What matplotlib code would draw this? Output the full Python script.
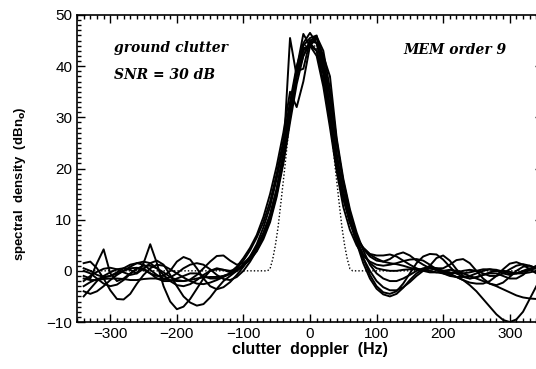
import matplotlib
matplotlib.use('Agg')
import matplotlib.pyplot as plt
from matplotlib.ticker import MultipleLocator

# doppler grid (Hz), 10 Hz steps
doppler = list(range(-340, 341, 10))

# MEM order 9 estimates (dB)
mem1 = [-1, -1.5, 1.5, 4.2, -0.5, -2, -1.5, -0.5, 0.5, 0.5, -0.5, -1.5, -2, -2, -1.5, -1, -0.5, -0.5, -1, -1.5, -1.5, -1, -0.5,
        0, 1, 2.5, 4.5, 7, 10.5, 15.5, 23, 45.5, 38, 42, 44.5, 43, 37, 29, 20.5, 14, 9.5, 6.5, 4.3, 2.8, 2,
        1.8, 2.3, 3.2, 3.6, 3, 2, 1.2, 0.5, 0.2, 0, -0.3, -0.5, -0.5, -0.3, 0, 0.3, 0.3, 0, -0.5, -0.8, -0.5, 0, 0.5, 0.5]
mem2 = [-5, -3.5, -2, -1, -0.3, 0.3, 0.5, 0.2, -0.5, 1.5, 5.2, 1.5, -3, -6, -7.5, -7, -5.5, -3.5, -1.5, 0, 0.5, 0.2, -0.3,
        0.8, 2.5, 4.5, 7, 10.5, 15, 20.5, 27, 35, 32, 37, 44, 45.5, 41.5, 34, 25, 17.5, 11.5, 6.5, 2.5, -0.8, -3,
        -4.2, -4.5, -4, -2.5, -0.5, 1.5, 2.8, 3.3, 3.2, 2.2, 0.8, -0.5, -1.2, -1.5, -1.3, -0.8, -0.3, 0, 0, -0.2, -0.5, -0.5, -0.3, 0]
mem3 = [1.5, 1.8, 0.5, -1.5, -3.8, -5.5, -5.6, -4.5, -2.5, -0.8, 0.5, 1.2, 1, 0.3, -0.5, -1.3, -2, -2.5, -2.6, -2.3, -1.8, -1.2, -0.6,
        0.2, 1.3, 2.8, 4.8, 7.5, 11, 16, 22.5, 30.5, 39, 39.5, 45, 44.5, 40, 32, 23, 15.5, 10, 6, 3.2, 1.5, 0.5,
        0.2, 0, 0, 0.2, 0.3, 0.3, 0.2, 0, -0.3, -0.5, -0.8, -1.2, -1.8, -2.8, -4, -5.5, -7, -8.5, -9.6, -10, -9.5, -8, -5.5, -3]
mem4 = [-3, -2.2, -1.6, -1.3, -1, -0.6, 0, 0.5, 0.6, 0.2, -0.5, -1, -1, 0, 1.8, 2.7, 2.2, 0.5, -1.5, -3, -3.6, -3.2, -2.2,
        -0.8, 0.8, 2.8, 5.2, 8.5, 12.5, 18, 24.5, 32, 39.5, 46.3, 44, 42, 36, 28, 19.5, 12.5, 8, 5, 3, 1.8, 1.2,
        1, 1.2, 1.5, 1.9, 2.2, 2.3, 2, 1.2, 0.3, -0.5, -1, -1.2, -1.2, -1, -0.5, 0, 0.3, 0.2, -0.2, -0.5, -0.5, -0.2, 0.2, 0.5]
mem5 = [-2, -1, -0.2, 0.4, 0.6, 0.3, -0.3, -0.8, -0.5, 0.4, 1.5, 2, 1.2, -0.8, -3, -5, -6.2, -6.8, -6.5, -5.2, -3.5, -2, -1,
        0, 1.2, 2.6, 4.3, 6.8, 10, 15, 21.5, 30, 39, 44, 45.5, 46, 40.5, 32, 22.5, 15, 9.5, 5.5, 2.5, 0, -2,
        -3.2, -3.8, -3.8, -3.2, -2.2, -1, 0, 0.5, 0.5, 0.5, 1.2, 2.1, 2.3, 1.5, 0, -1.5, -2.5, -2.8, -2.3, -1.2, 0, 0.8, 1, 0.5]
mem6 = [0, -0.5, -1.5, -2.5, -3, -2.7, -1.8, -0.6, 0.4, 1, 1, 0.5, -0.3, -1.2, -1.8, -2, -1.7, -0.8, 0.5, 1.8, 2.9, 3, 2,
        1.2, 1.5, 2.5, 4.2, 7, 10.8, 16, 23, 31, 38, 43, 44.5, 45.5, 42, 38, 26, 18, 12, 7.5, 4, 1.2, -0.5,
        -1.5, -2, -2, -1.5, -0.8, 0, 0.5, 0.8, 0.5, 0, -0.5, -1.2, -1.8, -2.3, -2.5, -2.5, -2, -1, 0.3, 1.4, 1.7, 1.2, 0.3, -0.5]
mem7 = [-4, -4.5, -4, -3, -1.8, -0.8, 0, 0.8, 1.5, 1.8, 1.5, 0.5, -0.8, -2, -2.8, -3, -2.6, -1.8, -0.8, 0, 0.3, 0.2, 0,
        0.3, 1, 2.2, 3.8, 6.2, 9.5, 14.5, 21, 29, 36.5, 42, 45, 45.8, 43, 35.5, 25.5, 17, 10.5, 5.5, 1.5, -1.5, -3.5,
        -4.6, -5, -4.5, -3.3, -1.8, -0.5, 0.3, 0.5, 0.2, -0.3, -0.5, -0.3, 0, 0.2, 0, -0.5, -1, -1, -0.5, 0.3, 1, 1.3, 1, 0.5]
mem8 = [-1.5, -1.8, -1.8, -1.6, -1.5, -1.5, -1.6, -1.8, -1.8, -1.6, -1.5, -1.5, -1.6, -1.8, -2, -2, -1.8, -1.5, -1.3, -1.2, -1.2, -1, -0.6,
        0.5, 2, 4, 6.5, 9.5, 13.5, 19, 25.5, 33, 40, 44.5, 46.5, 44.5, 39, 30.5, 21.5, 14.5, 9.5, 6.5, 4.5, 3.2, 2.4,
        1.8, 1.5, 1.3, 1, 0.6, 0.3, 0.2, 1, 2.5, 3, 2, 0.3, -1, -1.5, -1.2, -0.8, -0.5, -0.5, -1, -1.5, -1.5, -0.8, 0.3, 1]
mem9 = [0.5, 0, -0.8, -1.2, -1, -0.3, 0.5, 1.2, 1.5, 1.2, 0.2, -0.8, -1.5, -1.3, -0.5, 0.5, 1.2, 1.5, 1.2, 0.3, -0.8, -1.6, -1.8,
        -1.2, 0, 1.8, 4, 6.8, 10.5, 15.5, 22, 30, 38, 43.5, 44, 43, 38.5, 30.5, 21.5, 14.5, 9.5, 6.5, 4.5, 3.3, 3,
        3, 3.2, 2.8, 2, 1.2, 0.5, 0, -0.3, -0.3, 0, 0.2, 0, -0.5, -1, -1.5, -2, -2.5, -3, -3.6, -4.2, -4.8, -5.2, -5.4, -5.5]
estimates = [mem1, mem2, mem3, mem4, mem5, mem6, mem7, mem8, mem9]

# true clutter spectrum (dotted)
true_f = [-340, -64, -60, -56, -52, -48, -44, -38, -30, -20, -10, 0, 10, 20, 30, 38, 44, 48, 52, 56, 60, 64, 340]
true_db = [0, 0, 0.4, 2.3, 5, 8.5, 13, 20, 30, 38.5, 43.5, 45, 43.5, 38.5, 30, 20, 13, 8.5, 5, 2.3, 0.4, 0, 0]

fig = plt.figure(figsize=(5.36, 3.69), dpi=100)
ax = fig.add_axes([77 / 536, 47 / 369, 466 / 536, 307 / 369])

for est in estimates:
    ax.plot(doppler, est, color='black', lw=1.4, solid_joinstyle='round')
ax.plot(true_f, true_db, color='black', lw=1.0, linestyle=(0, (1, 1.5)))

ax.set_xlim(-350, 350)
ax.set_ylim(-10, 50)
ax.xaxis.set_major_locator(MultipleLocator(100))
ax.xaxis.set_minor_locator(MultipleLocator(10))
ax.yaxis.set_major_locator(MultipleLocator(10))
ax.yaxis.set_minor_locator(MultipleLocator(1))
ax.tick_params(which='both', direction='in', top=True, right=True, width=1.0, labelsize=11)
ax.tick_params(which='major', length=6)
ax.tick_params(which='minor', length=3)
for lab in ax.get_xticklabels() + ax.get_yticklabels():
    lab.set_family('Liberation Sans')
for sp in ax.spines.values():
    sp.set_linewidth(1.2)

ax.set_xlabel('clutter  doppler  (Hz)', fontsize=11.5, fontweight='bold', family='Liberation Sans', labelpad=1)
ax.set_ylabel(r'spectral  density  (dBn$_\mathbf{o}$)', fontsize=9.5, fontweight='bold', family='Liberation Sans', labelpad=6)
ax.yaxis.set_label_coords(-0.105, 0.45)

txt = dict(fontsize=10, fontweight='bold', fontstyle='italic', family='DejaVu Serif', transform=ax.transAxes)
ax.text(0.08, 0.878, 'ground clutter', **txt)
ax.text(0.08, 0.793, 'SNR = 30 dB', **txt)
ax.text(0.70, 0.873, 'MEM order 9', **txt)

plt.savefig('out.png', dpi=100)
